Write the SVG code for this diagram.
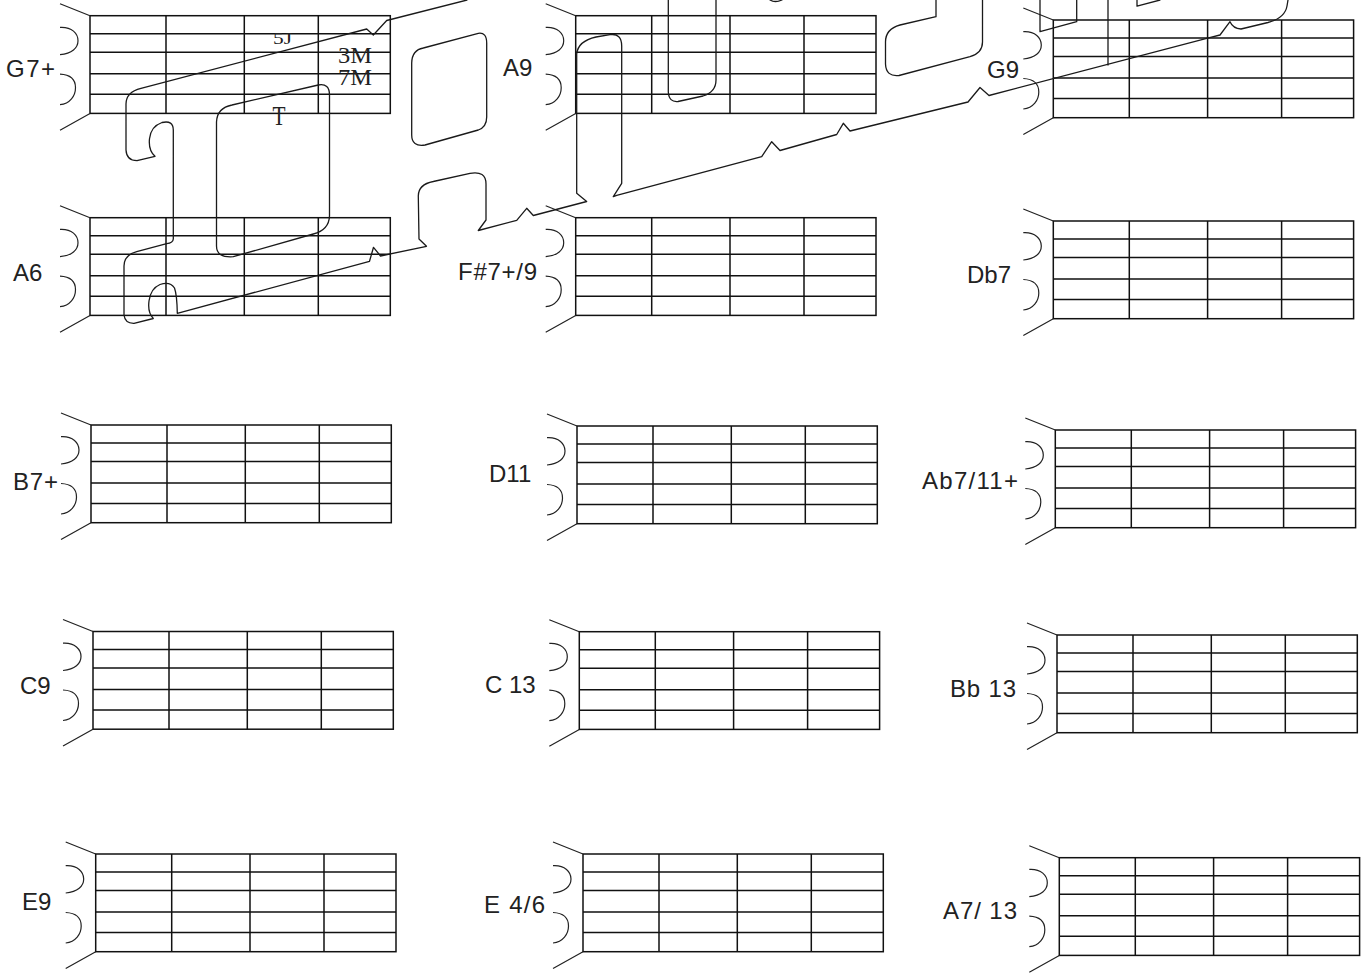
<svg xmlns="http://www.w3.org/2000/svg" xmlns:xlink="http://www.w3.org/1999/xlink" width="1365" height="976" viewBox="0 0 1365 976">
<style>
.grid{fill:none;stroke:#111;stroke-width:1.5}
.deco{fill:none;stroke:#222;stroke-width:1.2}
.trace{fill:none;stroke:#1a1a1a;stroke-width:1.3;stroke-linejoin:round;stroke-linecap:round}
.lbl{font-family:"Liberation Sans",Arial,sans-serif;font-size:24px;fill:#222}
.note{font-family:"Liberation Serif","Times New Roman",serif;fill:#222}
</style>
<defs>
<g id="fret">
<rect x="0" y="0" width="300.3" height="97.7" class="grid"/>
<path class="grid" d="M0 18H300.3M0 36.5H300.3M0 58H300.3M0 78.5H300.3M76 0V97.7M154.3 0V97.7M228.3 0V97.7"/>
<path class="deco" d="M-30 -12L0 0M0 97.7L-30 114.5M-30 11.7C-18 11 -12 18 -12 25C-12 32 -18 38 -30 39M-30 58.5C-20 59 -14.5 64 -14.5 72C-14.5 80 -20 88 -30 89"/>
</g>
</defs>
<rect width="1365" height="976" fill="#fff"/>
<g id="chord-G7plus"><use xlink:href="#fret" href="#fret" x="90" y="15.7"/><text class="lbl" x="6" y="77" textLength="49">G7+</text></g>
<g id="chord-A9"><use xlink:href="#fret" href="#fret" x="575.7" y="15.7"/><text class="lbl" x="503" y="76">A9</text></g>
<g id="chord-G9"><use xlink:href="#fret" href="#fret" x="1053.3" y="20"/><text class="lbl" x="987" y="78">G9</text></g>
<g id="chord-A6"><use xlink:href="#fret" href="#fret" x="90" y="217.7"/><text class="lbl" x="13" y="281">A6</text></g>
<g id="chord-Fs7plus9"><use xlink:href="#fret" href="#fret" x="575.7" y="217.7"/><text class="lbl" x="458" y="280" textLength="79">F#7+/9</text></g>
<g id="chord-Db7"><use xlink:href="#fret" href="#fret" x="1053.3" y="221"/><text class="lbl" x="967" y="283">Db7</text></g>
<g id="chord-B7plus"><use xlink:href="#fret" href="#fret" x="91" y="425"/><text class="lbl" x="13" y="490" textLength="45">B7+</text></g>
<g id="chord-D11"><use xlink:href="#fret" href="#fret" x="577" y="426"/><text class="lbl" x="489" y="482">D11</text></g>
<g id="chord-Ab7-11plus"><use xlink:href="#fret" href="#fret" x="1055.3" y="430"/><text class="lbl" x="922" y="489" textLength="96">Ab7/11+</text></g>
<g id="chord-C9"><use xlink:href="#fret" href="#fret" x="93" y="631.5"/><text class="lbl" x="20" y="694">C9</text></g>
<g id="chord-C13"><use xlink:href="#fret" href="#fret" x="579.3" y="631.7"/><text class="lbl" x="485" y="693">C 13</text></g>
<g id="chord-Bb13"><use xlink:href="#fret" href="#fret" x="1057" y="635"/><text class="lbl" x="950" y="697" textLength="66">Bb 13</text></g>
<g id="chord-E9"><use xlink:href="#fret" href="#fret" x="95.7" y="854"/><text class="lbl" x="22" y="910">E9</text></g>
<g id="chord-E46"><use xlink:href="#fret" href="#fret" x="583" y="854"/><text class="lbl" x="484" y="913" textLength="61">E 4/6</text></g>
<g id="chord-A7-13"><use xlink:href="#fret" href="#fret" x="1059.3" y="857.7"/><text class="lbl" x="943" y="919" textLength="74">A7/ 13</text></g>
<g id="notes">
<text class="note" x="273" y="43.5" font-size="17" textLength="19" lengthAdjust="spacingAndGlyphs">5J</text>
<text class="note" font-size="24"><tspan x="338" y="63.3" textLength="34" lengthAdjust="spacingAndGlyphs">3M</tspan><tspan x="338" y="85" textLength="34" lengthAdjust="spacingAndGlyphs">7M</tspan></text>
<text class="note" x="272.5" y="125" font-size="27" textLength="13" lengthAdjust="spacingAndGlyphs">T</text>
</g>
<g id="connectors">
<path class="trace" d="M467 0L386.7 20.5L373.3 35L366.7 29L141 88.3Q126 92 126 104L126 150Q126.5 160.5 137 160.7L155 156.3C147 149 146 128 162 122.5Q173.3 120 173.3 130L173.3 239Q173 243 166.7 243.7L136.7 251.7Q124 255 124 266L124 315Q125 323.5 134 323.3L153.3 318.5C146 311 147 290 160 284.5Q170 281 174.5 288Q177 295 177.3 313.3L369.5 261.3L373.5 247.3L380.5 256L426.5 246.3L419 239L418.3 196Q418.3 184.5 433.3 181.5L470 173.3Q486 170.5 486 184L486 220L478.3 230.5L516.7 220.3L526.7 208.3L533.3 215.5L586.7 201.5L576.7 193.3L576.7 54Q578 41 596 37L610 34.7Q621.7 33 621.7 46L621.7 183.3L613.3 196.7L616.7 195.3L761.7 156.7L771.7 141.7L780 150.5L836.7 134.5L843.3 123.3L850 131L968 102L980 87.5L989 95.5L1206.7 38.3L1220 35L1230 21.7Q1233 28.5 1241 29L1268 22.5Q1285 18 1287 6L1288 0"/>
<path class="trace" d="M216.5 122Q217 108 232 105L318.3 85Q329.5 83 329.5 95L329.5 216Q329 230 313.3 234L233.3 256.7Q216.5 258 216.5 246Z"/>
<path class="trace" d="M411.7 63Q412 50 423.3 48L478.3 33.3Q486.7 32 486.7 43L486.7 117Q486.7 127 478.3 130L425 145Q411.7 147 411.7 135Z"/>
<path class="trace" d="M668.3 0L668.3 92Q669 102.5 678 101.5L703 96Q716 92 716 80L716 0"/>
<path class="trace" d="M936 0L936 16.7L900 25Q885.5 29 885.5 42L885.5 64Q886 77 899 75.5L970 56.7Q982.5 53 982.5 42L982.5 0"/>
<path class="trace" d="M1040 0L1040 31.7L1076.7 21.7L1076.7 0"/>
<path class="trace" d="M1108 0L1108 65"/>
<path class="trace" d="M1137 0L1137 6.2L1160 0"/>
<path class="trace" d="M770 0Q775 3 782 0"/>
</g>
</svg>
